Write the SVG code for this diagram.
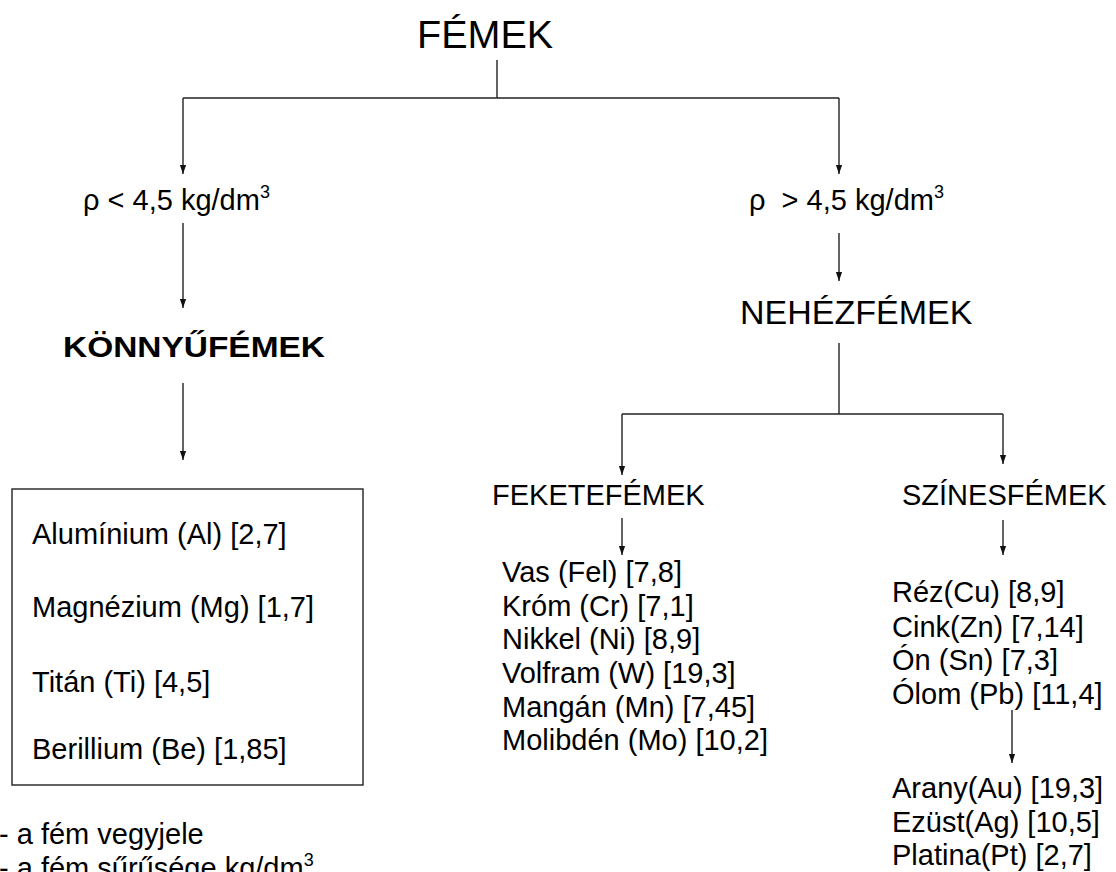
<svg xmlns="http://www.w3.org/2000/svg" width="1116" height="872" viewBox="0 0 1116 872">
<style>
text{font-family:"Liberation Sans",Arial,sans-serif;fill:#000;font-size:29px}
.big{font-size:39.5px}
.mid{font-size:34px}
.bold{font-weight:bold}
.ln{stroke:#222;stroke-width:1.4;fill:none}
.sup{font-size:18px}
</style>
<defs>
<marker id="ah" markerWidth="10" markerHeight="14" refX="5" refY="13" orient="auto-start-reverse" markerUnits="userSpaceOnUse" viewBox="0 0 10 14">
<path d="M0.5,0 L9.5,0 L5,13 Z" fill="#111" transform="rotate(-90 5 7)"/>
</marker>
<marker id="arr" markerWidth="10" markerHeight="14" refX="13" refY="5" orient="auto" markerUnits="userSpaceOnUse" viewBox="0 0 14 10">
<path d="M0,0.5 L13,5 L0,9.5 Z" fill="#111"/>
</marker>
</defs>
<rect width="1116" height="872" fill="#fff"/>
<g id="connectors">
<path class="ln" d="M497,60 V98"/>
<path class="ln" d="M183,98 H839"/>
<path class="ln" d="M183,98 V174" marker-end="url(#arr)"/>
<path class="ln" d="M839,98 V174" marker-end="url(#arr)"/>
<path class="ln" d="M183,223 V308" marker-end="url(#arr)"/>
<path class="ln" d="M839,233 V281" marker-end="url(#arr)"/>
<path class="ln" d="M183,383 V460" marker-end="url(#arr)"/>
<path class="ln" d="M839,343 V414"/>
<path class="ln" d="M622,414 H1003"/>
<path class="ln" d="M622,414 V475" marker-end="url(#arr)"/>
<path class="ln" d="M1003,414 V464" marker-end="url(#arr)"/>
<path class="ln" d="M622,518 V555" marker-end="url(#arr)"/>
<path class="ln" d="M1003,520 V555" marker-end="url(#arr)"/>
<path class="ln" d="M1012,710 V763" marker-end="url(#arr)"/>
</g>
<g id="femek"><text class="big" x="417" y="48">FÉMEK</text></g>
<g id="light-density"><text x="83" y="210">ρ &lt; 4,5 kg/dm<tspan class="sup" dy="-12">3</tspan></text></g>
<g id="heavy-density"><text x="749" y="210" xml:space="preserve">ρ  &gt; 4,5 kg/dm<tspan class="sup" dy="-12">3</tspan></text></g>
<g id="konnyufemek"><text class="bold" x="63" y="357" textLength="262" lengthAdjust="spacingAndGlyphs">KÖNNYŰFÉMEK</text></g>
<g id="nehezfemek"><text class="mid" x="740" y="324">NEHÉZFÉMEK</text></g>
<g id="light-list">
<rect x="12" y="489" width="351" height="296" fill="none" stroke="#222" stroke-width="1.4"/>
<text x="32" y="544">Alumínium (Al) [2,7]</text>
<text x="32" y="617">Magnézium (Mg) [1,7]</text>
<text x="32" y="692">Titán (Ti) [4,5]</text>
<text x="32" y="759">Berillium (Be) [1,85]</text>
</g>
<g id="feketefemek"><text x="492" y="505">FEKETEFÉMEK</text></g>
<g id="szinesfemek"><text x="902" y="505">SZÍNESFÉMEK</text></g>
<g id="ferrous-list">
<text x="502" y="582">Vas (Fel) [7,8]</text>
<text x="502" y="616">Króm (Cr) [7,1]</text>
<text x="502" y="649">Nikkel (Ni) [8,9]</text>
<text x="502" y="683">Volfram (W) [19,3]</text>
<text x="502" y="717">Mangán (Mn) [7,45]</text>
<text x="502" y="750">Molibdén (Mo) [10,2]</text>
</g>
<g id="nonferrous-list">
<text x="892" y="602">Réz(Cu) [8,9]</text>
<text x="892" y="637">Cink(Zn) [7,14]</text>
<text x="892" y="670">Ón (Sn) [7,3]</text>
<text x="892" y="704">Ólom (Pb) [11,4]</text>
</g>
<g id="precious-list">
<text x="892" y="798">Arany(Au) [19,3]</text>
<text x="892" y="832">Ezüst(Ag) [10,5]</text>
<text x="892" y="865">Platina(Pt) [2,7]</text>
</g>
<g id="legend">
<text x="-1" y="844">- a fém vegyjele</text>
<text x="-1" y="878">- a fém sűrűsége kg/dm<tspan class="sup" dy="-12">3</tspan></text>
</g>
</svg>
